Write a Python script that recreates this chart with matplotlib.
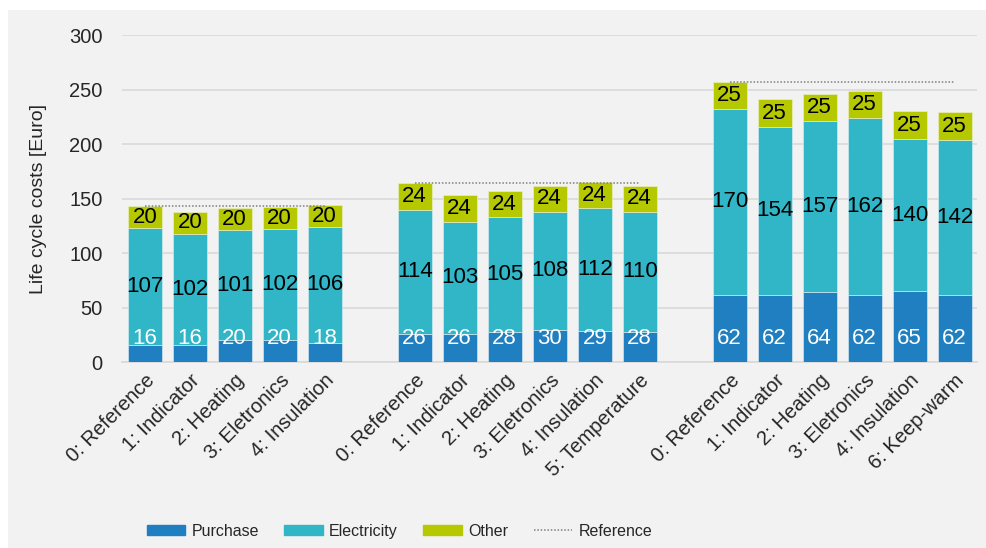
import numpy as np
import matplotlib.pyplot as plt
from matplotlib.patches import Rectangle
from matplotlib.lines import Line2D

plt.rcParams['font.family'] = ['Liberation Sans', 'DejaVu Sans']

# data, three scenario groups
labels_1 = ["0: Reference", "1: Indicator", "2: Heating", "3: Eletronics", "4: Insulation"]
purchase_1 = [16, 16, 20, 20, 18]
electricity_1 = [107, 102, 101, 102, 106]
other_1 = [20, 20, 20, 20, 20]

labels_2 = ["0: Reference", "1: Indicator", "2: Heating", "3: Eletronics", "4: Insulation", "5: Temperature"]
purchase_2 = [26, 26, 28, 30, 29, 28]
electricity_2 = [114, 103, 105, 108, 112, 110]
other_2 = [24, 24, 24, 24, 24, 24]

labels_3 = ["0: Reference", "1: Indicator", "2: Heating", "3: Eletronics", "4: Insulation", "6: Keep-warm"]
purchase_3 = [62, 62, 64, 62, 65, 62]
electricity_3 = [170, 154, 157, 162, 140, 142]
other_3 = [25, 25, 25, 25, 25, 25]

groups = [
    (labels_1, purchase_1, electricity_1, other_1),
    (labels_2, purchase_2, electricity_2, other_2),
    (labels_3, purchase_3, electricity_3, other_3),
]

c_purchase = "#1f7fc0"
c_elec = "#31b6c8"
c_other = "#b5c800"
bg = "#f2f2f2"

fig = plt.figure(figsize=(9.86, 5.48), dpi=100, facecolor="white")
fig.patches.append(Rectangle((8 / 986, 0), 1, 1 - 10 / 548, transform=fig.transFigure,
                             facecolor=bg, edgecolor="none", zorder=-10))
ax = fig.add_axes([0.124, 0.339, 0.867, 0.597])
ax.set_facecolor(bg)

width = 0.76
all_pos = []
all_labels = []
start = 0
for labels, pur, ele, oth in groups:
    pos = np.arange(start, start + len(labels))
    pur = np.array(pur)
    ele = np.array(ele)
    oth = np.array(oth)
    ax.bar(pos, pur, width, color=c_purchase, edgecolor="#e0eef5", linewidth=0.4, zorder=3)
    ax.bar(pos, ele, width, bottom=pur, color=c_elec, edgecolor="#e0eef5", linewidth=0.4, zorder=3)
    ax.bar(pos, oth, width, bottom=pur + ele, color=c_other, edgecolor="#eef3d0", linewidth=0.4, zorder=3)
    for x, p, e, o in zip(pos, pur, ele, oth):
        ax.annotate(str(p), (x, 0), xytext=(0, 17), textcoords="offset points",
                    ha="center", va="center", color="white", fontsize=16, zorder=5)
        ax.text(x, p + e / 2, str(e), ha="center", va="center", color="black", fontsize=16, zorder=5)
        ax.text(x, p + e + o / 2, str(o), ha="center", va="center", color="black", fontsize=16, zorder=5)
    ref_total = pur[0] + ele[0] + oth[0]
    ax.plot([pos[0], pos[-1]], [ref_total, ref_total], linestyle=(0, (1, 1.2)),
            color="#808080", linewidth=1.1, zorder=4)
    all_pos.extend(pos)
    all_labels.extend(labels)
    start += len(labels) + 1

ax.set_xlim(-0.5, start - 1.5)
ax.set_ylim(0, 300)
ax.set_yticks(np.arange(0, 301, 50))
ax.yaxis.grid(True, color="#d9d9d9", linewidth=1.2, zorder=0)
ax.set_axisbelow(True)
for s in ["top", "right", "left"]:
    ax.spines[s].set_visible(False)
ax.spines["bottom"].set_color("#d9d9d9")
ax.spines["bottom"].set_linewidth(1.2)
ax.tick_params(axis="y", length=0, labelsize=14.5, pad=14, labelcolor="#262626")
ax.tick_params(axis="x", length=0, pad=6)
ax.set_xticks(all_pos)
ax.set_xticklabels(all_labels, rotation=45, ha="right", rotation_mode="anchor",
                   fontsize=14.5, color="#262626")
ax.set_ylabel("Life cycle costs [Euro]", fontsize=14, color="#262626", labelpad=16)

handles = [
    Rectangle((0, 0), 1, 1, color=c_purchase),
    Rectangle((0, 0), 1, 1, color=c_elec),
    Rectangle((0, 0), 1, 1, color=c_other),
    Line2D([0], [0], linestyle=(0, (1, 1.2)), color="#808080", linewidth=1.1),
]
fig.legend(handles, ["Purchase", "Electricity", "Other", "Reference"], loc="center",
           bbox_to_anchor=(0.405, 0.031), ncol=4, frameon=False, fontsize=11.5,
           handlelength=2.4, handleheight=0.65, columnspacing=1.6, handletextpad=0.4,
           labelcolor="#262626")

fig.savefig("out.png", dpi=100, facecolor=fig.get_facecolor())
